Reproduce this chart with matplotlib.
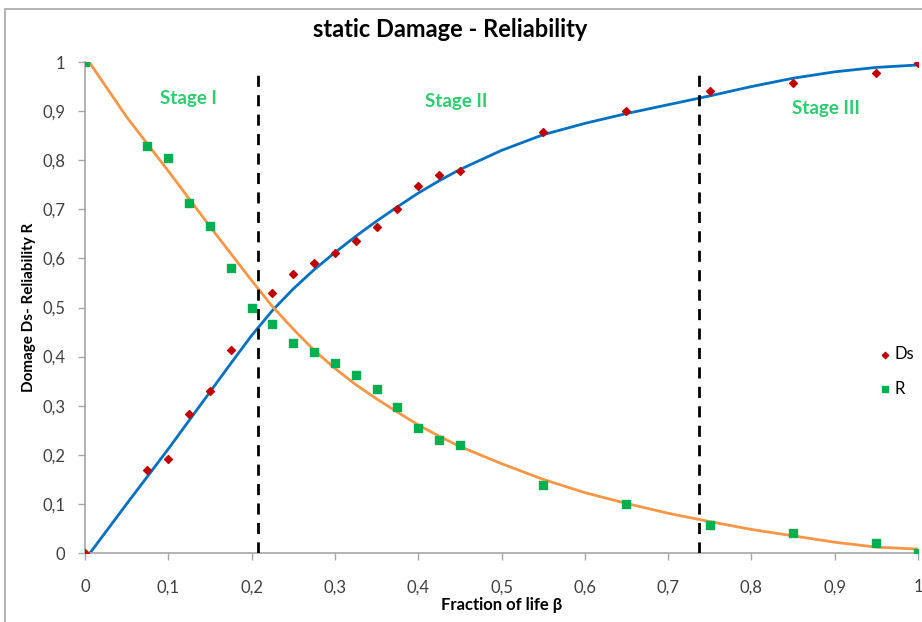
import matplotlib.pyplot as plt
from matplotlib.patches import Rectangle
from matplotlib.ticker import FuncFormatter

plt.rcParams["font.family"] = ["Lato", "DejaVu Sans"]

# Measured points (fraction of life beta)
ds_x = [0, 0.075, 0.1, 0.125, 0.15, 0.175, 0.225, 0.25, 0.275, 0.3, 0.325, 0.35,
        0.375, 0.4, 0.425, 0.45, 0.55, 0.65, 0.75, 0.85, 0.95, 1.0]
ds_y = [0, 0.169, 0.192, 0.284, 0.329, 0.414, 0.530, 0.568, 0.590, 0.611, 0.636, 0.663,
        0.700, 0.747, 0.770, 0.778, 0.857, 0.900, 0.940, 0.958, 0.977, 0.997]

r_x = [0, 0.075, 0.1, 0.125, 0.15, 0.175, 0.2, 0.225, 0.25, 0.275, 0.3, 0.325, 0.35,
       0.375, 0.4, 0.425, 0.45, 0.55, 0.65, 0.75, 0.85, 0.95, 1.0]
r_y = [1.0, 0.828, 0.805, 0.712, 0.666, 0.581, 0.500, 0.466, 0.428, 0.410, 0.388, 0.363, 0.334,
       0.297, 0.254, 0.230, 0.221, 0.138, 0.099, 0.058, 0.041, 0.020, 0.0]

# Trend curves
ds_fit_x = [0.006, 0.05, 0.1, 0.15, 0.175, 0.2, 0.225, 0.25, 0.275, 0.3, 0.325, 0.35, 0.375,
            0.4, 0.425, 0.45, 0.5, 0.55, 0.6, 0.65, 0.7, 0.75, 0.8, 0.85, 0.9, 0.95, 1.0]
ds_fit_y = [0, 0.100, 0.212, 0.328, 0.386, 0.443, 0.494, 0.538, 0.577, 0.612, 0.645, 0.676, 0.705,
            0.733, 0.758, 0.781, 0.820, 0.852, 0.875, 0.895, 0.913, 0.931, 0.950, 0.967, 0.980,
            0.989, 0.994]

r_fit_x = [0.005, 0.05, 0.1, 0.15, 0.175, 0.2, 0.225, 0.25, 0.275, 0.3, 0.325, 0.35, 0.375,
           0.4, 0.425, 0.45, 0.5, 0.55, 0.6, 0.65, 0.7, 0.75, 0.8, 0.85, 0.9, 0.95, 1.0]
r_fit_y = [1.0, 0.888, 0.778, 0.665, 0.610, 0.555, 0.502, 0.456, 0.413, 0.376, 0.343, 0.314, 0.287,
           0.261, 0.238, 0.217, 0.182, 0.150, 0.123, 0.101, 0.081, 0.064, 0.048, 0.035, 0.022,
           0.012, 0.008]

stage_bounds = [0.208, 0.737]
stage_labels = ["Stage I", "Stage II", "Stage III"]
stage_pos = [(0.124, 0.925), (0.445, 0.92), (0.89, 0.906)]

fig = plt.figure(figsize=(9.22, 6.22), dpi=100)
ax = fig.add_axes([0.0922, 0.1109, 0.9035, 0.7894])

# outer chart frame (gray)
fig.patches.append(Rectangle((5 / 922, -0.1), 1.2, 1 - 9 / 622 + 0.1, transform=fig.transFigure,
                             fill=False, edgecolor="#a6a6a6", linewidth=1.2))

ax.plot(ds_fit_x, ds_fit_y, color="#0070C0", linewidth=2.0, zorder=2)
ax.plot(r_fit_x, r_fit_y, color="#F79646", linewidth=2.0, zorder=2)

ax.scatter(ds_x, ds_y, marker="D", s=16, color="#C00000", label="Ds", zorder=3)
ax.scatter(r_x, r_y, marker="s", s=30, color="#00B050", label="R", zorder=3)

for b in stage_bounds:
    ax.plot([b, b], [0, 0.985], color="black", linestyle=(0, (4, 3)), linewidth=2, zorder=4)

for lab, (sx, sy) in zip(stage_labels, stage_pos):
    ax.text(sx, sy, lab, color="#2ECC71", fontsize=13.5, fontweight="bold",
            ha="center", va="center")

ax.set_xlim(0, 1)
ax.set_ylim(0, 1)
ticks = [0, 0.1, 0.2, 0.3, 0.4, 0.5, 0.6, 0.7, 0.8, 0.9, 1.0]
ax.set_xticks(ticks)
ax.set_yticks(ticks)
fmt = FuncFormatter(lambda v, p: ("%g" % round(v, 1)).replace(".", ","))
ax.xaxis.set_major_formatter(fmt)
ax.yaxis.set_major_formatter(fmt)
ax.tick_params(axis="both", labelsize=12, colors="#404040", length=5, width=1,
               color="#a6a6a6", pad=9)
ax.tick_params(axis="x", pad=14)

for s in ["top", "right"]:
    ax.spines[s].set_visible(False)
for s in ["left", "bottom"]:
    ax.spines[s].set_color("#a6a6a6")
    ax.spines[s].set_linewidth(1.2)

ax.set_xlabel("Fraction of life β", fontsize=12, fontweight="bold", labelpad=1)
ax.set_ylabel("Domage Ds- Reliability R", fontsize=11, fontweight="bold", labelpad=5)
fig.text(0.488, 0.952, "static Damage - Reliability", fontsize=17, fontweight="bold",
         ha="center", va="center")

ax.legend(loc="center left", bbox_to_anchor=(0.942, 0.37), frameon=False, fontsize=12,
          handletextpad=0.1, labelspacing=1.1, borderaxespad=0, handlelength=1.0,
          markerscale=0.8)

fig.savefig("out.png", dpi=100)
